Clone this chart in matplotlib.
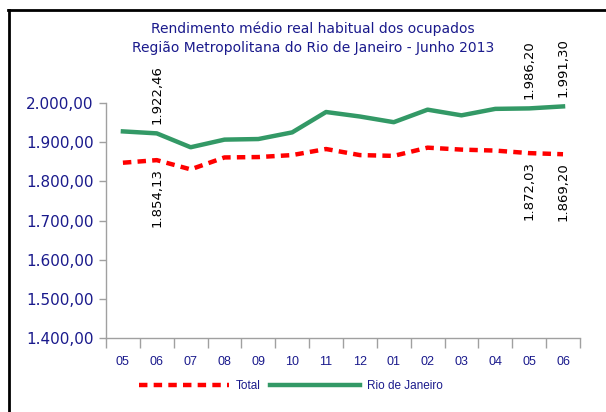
import numpy as np
import matplotlib.pyplot as plt
from matplotlib.lines import Line2D
from matplotlib.ticker import FuncFormatter

plt.rcParams['font.family'] = ['Liberation Sans', 'DejaVu Sans']

months = ['05', '06', '07', '08', '09', '10', '11', '12', '01', '02', '03', '04', '05', '06']
rio = [1927.5, 1922.46, 1887.0, 1906.5, 1908.0, 1925.0, 1977.0, 1965.5, 1951.0, 1983.0, 1968.5, 1985.0, 1986.20, 1991.30]
total = [1847.5, 1854.13, 1830.5, 1861.0, 1862.0, 1867.0, 1882.5, 1867.0, 1865.0, 1886.0, 1881.0, 1878.5, 1872.03, 1869.20]
# indices that carry a value label
labelled = [1, 12, 13]

title = 'Rendimento médio real habitual dos ocupados\nRegião Metropolitana do Rio de Janeiro - Junho 2013'
navy = '#1a1a8c'
green = '#339966'
red = '#ff0000'
grey = '#a0a0a0'
wide = ['DejaVu Sans']


def br(v, pos=None):
    s = f'{v:,.2f}'
    return s.replace(',', 'X').replace('.', ',').replace('X', '.')


fig = plt.figure(figsize=(6.06, 4.12), dpi=100)
ax = fig.add_axes([0.1749, 0.1796, 0.957 - 0.1749, 0.75 - 0.1796])

x = np.arange(len(months))
ax.plot(x, total, color=red, lw=3.2, dashes=(1.9, 1.4), label='Total', dash_capstyle='butt')
ax.plot(x, rio, color=green, lw=3.2, label='Rio de Janeiro')

for i in labelled:
    ax.annotate(br(rio[i]), (x[i], rio[i]), xytext=(0, 7), textcoords='offset points',
                rotation=90, ha='center', va='bottom', fontsize=9.5, color='black', family=wide)
    ax.annotate(br(total[i]), (x[i], total[i]), xytext=(0, -6), textcoords='offset points',
                rotation=90, ha='center', va='top', fontsize=9.5, color='black', family=wide)

ax.set_xlim(-0.5, len(months) - 0.5)
ax.set_ylim(1400, 2000)
ax.set_yticks(np.arange(1400, 2001, 100))
ax.yaxis.set_major_formatter(FuncFormatter(br))
ax.set_xticks(x)
ax.set_xticklabels(months)
ax.set_xticks(np.arange(-0.5, len(months), 1), minor=True)
ax.tick_params(axis='x', which='major', length=0, pad=13, labelsize=9, labelcolor=navy)
ax.tick_params(axis='x', which='minor', length=7, width=1, color=grey, direction='out')
ax.tick_params(axis='y', length=5, width=1, color=grey, direction='out', labelsize=11, labelcolor=navy, pad=4)
for lbl in ax.get_yticklabels():
    lbl.set_family(wide)

for s in ['top', 'right']:
    ax.spines[s].set_visible(False)
for s in ['left', 'bottom']:
    ax.spines[s].set_color(grey)
    ax.spines[s].set_linewidth(1)

fig.text(0.516, 0.908, title, ha='center', va='center', fontsize=10, color=navy,
         linespacing=1.45, family=wide)

leg = fig.legend(loc='center', bbox_to_anchor=(0.48, 0.062), ncol=2, frameon=False,
                 fontsize=8.5, handlelength=7.6, columnspacing=0.8, handletextpad=0.6)
for t in leg.get_texts():
    t.set_color(navy)

# outer frame (top and left edges only visible)
fig.add_artist(Line2D([0.0135, 1.0], [0.9757, 0.9757], transform=fig.transFigure, color='black', lw=2))
fig.add_artist(Line2D([0.0148, 0.0148], [0.9757, 0.0], transform=fig.transFigure, color='black', lw=2))

fig.savefig('out.png', dpi=100)
